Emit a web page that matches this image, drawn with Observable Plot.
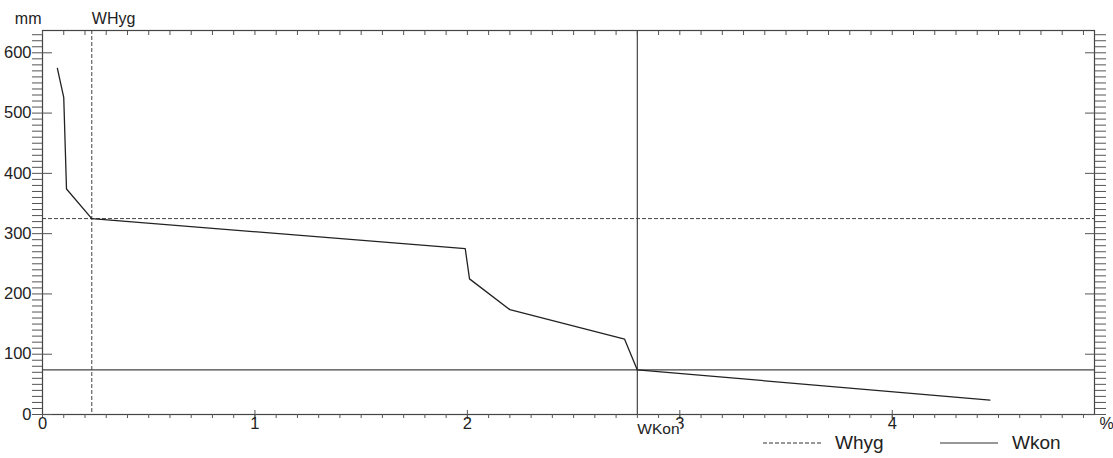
<!DOCTYPE html>
<html><head><meta charset="utf-8">
<script src="https://cdn.jsdelivr.net/npm/d3@7"></script>
<script src="https://cdn.jsdelivr.net/npm/@observablehq/plot@0.6"></script>
<style>
body{margin:0;background:#fff;font-family:"Liberation Sans",Arial,sans-serif;}
#wrap{position:relative;width:1113px;height:458px;overflow:hidden;}
.lg{position:absolute;font-size:19px;color:#222;line-height:1;}
.ls{position:absolute;}
</style></head><body><div id="wrap"></div>
<script>
// data
const moisture = [0.07, 0.10, 0.113, 0.232, 1.99, 2.01, 2.20, 2.74, 2.80, 4.46]; // %
const depth    = [574, 526, 374, 325, 275, 225, 174, 125, 74, 24];              // mm
const wHygX = 0.232, wHygY = 325;
const wKonX = 2.80,  wKonY = 74;
const xTickLabels = [0, 1, 2, 3, 4];
const yTickLabels = [0, 100, 200, 300, 400, 500, 600];
const xDomain = [0, 4.952];
const yDomain = [0, 637];

const curve = moisture.map((m, i) => ({m, d: depth[i]}));
const xMinor = d3.range(0, 50).map(i => +(i / 10).toFixed(1));
const yMinor = d3.range(0, 64).map(i => i * 10);
const blank = () => "";
const intFmt = d => String(d);
const tickColor = "#555";
const ink = "#222";

const chart = Plot.plot({
  width: 1113, height: 458,
  marginLeft: 42, marginRight: 19, marginTop: 30, marginBottom: 44,
  style: {fontFamily: "'Liberation Sans', Arial, sans-serif", color: ink, background: "#fff"},
  x: {domain: xDomain, axis: null},
  y: {domain: yDomain, axis: null},
  marks: [
    // reference lines
    Plot.ruleY([wHygY], {stroke: "#444", strokeWidth: 1, strokeDasharray: "4,2"}),
    Plot.ruleX([wHygX], {stroke: "#444", strokeWidth: 1, strokeDasharray: "4,2"}),
    Plot.ruleY([wKonY], {stroke: "#444", strokeWidth: 1.2}),
    Plot.ruleX([wKonX], {stroke: "#444", strokeWidth: 1.2}),
    // curve
    Plot.line(curve, {x: "m", y: "d", stroke: ink, strokeWidth: 1.3}),
    Plot.frame({stroke: "#444", strokeWidth: 1.2}),
    // bottom axis: minor outward, major crossing
    Plot.axisX(xMinor, {anchor: "bottom", tickSize: 4, tickFormat: blank, label: null, stroke: tickColor}),
    Plot.axisX(xTickLabels.slice(1), {anchor: "bottom", tickSize: 9, dy: -4, tickFormat: blank, label: null, stroke: tickColor}),
    Plot.axisX(xTickLabels, {anchor: "bottom", tickSize: 0, tickPadding: 3, fontSize: 16.5, tickFormat: intFmt, label: null, fill: ink}),
    // top axis: inward ticks
    Plot.axisX(xMinor, {anchor: "top", tickSize: 4, dy: 4, tickFormat: blank, label: null, stroke: tickColor}),
    // left axis: minor outward, major crossing
    Plot.axisY(yMinor, {anchor: "left", tickSize: 10, tickFormat: blank, label: null, stroke: tickColor}),
    Plot.axisY(yTickLabels, {anchor: "left", tickSize: 10, dx: 10, tickFormat: blank, label: null, stroke: tickColor}),
    Plot.axisY(yTickLabels, {anchor: "left", tickSize: 0, tickPadding: 11, fontSize: 16.5, tickFormat: intFmt, label: null, fill: ink}),
    // right axis
    Plot.axisY(yMinor, {anchor: "right", tickSize: 11, tickFormat: blank, label: null, stroke: tickColor}),
    Plot.axisY(yTickLabels, {anchor: "right", tickSize: 10, dx: -10, tickFormat: blank, label: null, stroke: tickColor}),
    // annotations
    Plot.text(["mm"], {frameAnchor: "top-left", dx: -1, dy: -12, textAnchor: "end", lineAnchor: "middle", fontSize: 16, fill: ink}),
    Plot.text(["WHyg"], {x: wHygX, frameAnchor: "top", dy: -12, textAnchor: "start", lineAnchor: "middle", fontSize: 16, fill: ink}),
    Plot.text(["WKon"], {x: wKonX, frameAnchor: "bottom", dy: 15, textAnchor: "start", lineAnchor: "middle", fontSize: 15.5, fill: ink, stroke: "white", strokeWidth: 3, paintOrder: "stroke"}),
    Plot.text(["%"], {frameAnchor: "bottom-right", dx: 12, dy: 9, textAnchor: "middle", lineAnchor: "middle", fontSize: 16, fill: ink})
  ]
});
const wrap = document.getElementById("wrap");
wrap.appendChild(chart);

// legend
const legendItems = [
  {label: "Whyg", dash: "4,2", x0: 763, x1: 822, tx: 835},
  {label: "Wkon", dash: null, x0: 940, x1: 998, tx: 1012}
];
for (const it of legendItems) {
  const s = document.createElementNS("http://www.w3.org/2000/svg", "svg");
  s.setAttribute("class", "ls");
  s.setAttribute("width", it.x1 - it.x0);
  s.setAttribute("height", 4);
  s.style.left = it.x0 + "px";
  s.style.top = "441px";
  const l = document.createElementNS("http://www.w3.org/2000/svg", "line");
  l.setAttribute("x1", 0); l.setAttribute("x2", it.x1 - it.x0);
  l.setAttribute("y1", 2); l.setAttribute("y2", 2);
  l.setAttribute("stroke", "#333"); l.setAttribute("stroke-width", 1.2);
  if (it.dash) l.setAttribute("stroke-dasharray", it.dash);
  s.appendChild(l);
  wrap.appendChild(s);
  const t = document.createElement("div");
  t.className = "lg";
  t.textContent = it.label;
  t.style.left = it.tx + "px";
  t.style.top = "433px";
  wrap.appendChild(t);
}
chart.style.position = "absolute";
chart.style.left = "0"; chart.style.top = "0";
</script></body></html>
